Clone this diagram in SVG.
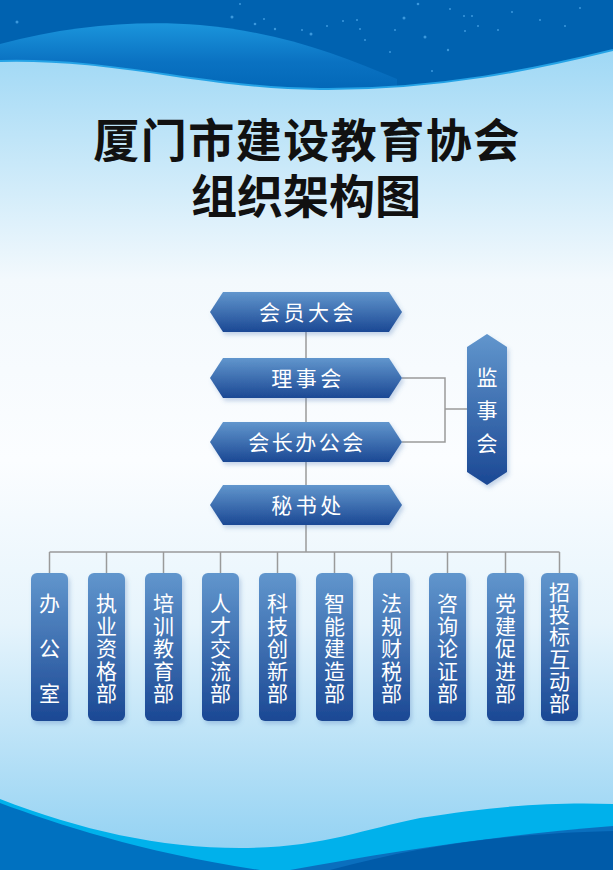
<svg xmlns="http://www.w3.org/2000/svg" width="613" height="870" viewBox="0 0 613 870">
<defs>
<linearGradient id="bg" x1="0" y1="0" x2="0" y2="1">
<stop offset="0" stop-color="#9fd8f5"/>
<stop offset="0.28" stop-color="#f3f9fd"/>
<stop offset="0.5" stop-color="#fbfdff"/>
<stop offset="0.7" stop-color="#e6f4fc"/>
<stop offset="1" stop-color="#8ccff2"/>
</linearGradient>
<linearGradient id="band" x1="0" y1="0" x2="0" y2="1">
<stop offset="0" stop-color="#1b95dc"/>
<stop offset="0.5" stop-color="#0a72c2"/>
<stop offset="1" stop-color="#0064b4"/>
</linearGradient>
<linearGradient id="node" x1="0" y1="0" x2="0" y2="1">
<stop offset="0" stop-color="#6196cd"/>
<stop offset="1" stop-color="#1b4894"/>
</linearGradient>
<filter id="sh" x="-20%" y="-20%" width="150%" height="150%">
<feDropShadow dx="2" dy="3" stdDeviation="2" flood-color="#4a74b4" flood-opacity="0.3"/>
</filter>
<style>
.n{fill:url(#node);filter:url(#sh)}
.t{font-family:"Noto Sans CJK SC","Noto Sans",sans-serif;fill:#fff;font-size:21px;text-anchor:middle}
.h{letter-spacing:3.5px}
.c{fill:none;stroke:#9a9a9a;stroke-width:1.5}
.title{font-family:"Noto Sans CJK SC","Noto Sans",sans-serif;font-weight:bold;font-size:46px;fill:#111;text-anchor:middle}
.star{fill:#3b98dc}
</style>
</defs>
<g id="background">
<rect x="0" y="0" width="613" height="870" fill="url(#bg)"/>
<rect x="0" y="0" width="613" height="100" fill="#0062b0"/>
<path d="M0,44 C70,25 140,20 200,25 C280,32 340,55 397,79 L397,100 L0,100 Z" fill="url(#band)"/>
<path d="M0,61 C120,58 200,88 320,89 C440,90 540,68 613,50 V870 H0 Z" fill="url(#bg)"/>
<path d="M0,61 C120,58 200,88 320,89 C440,90 540,68 613,50" fill="none" stroke="#25a3e6" stroke-width="2"/>
<g class="stars">
<circle class="star" cx="17" cy="22" r="1.5"/><circle class="star" cx="240" cy="4" r="1"/><circle class="star" cx="232" cy="17" r="1.5"/>
<circle class="star" cx="255" cy="24" r="1.3"/><circle class="star" cx="264" cy="19" r="1"/><circle class="star" cx="275" cy="29" r="1.2"/>
<circle class="star" cx="302" cy="30" r="1"/><circle class="star" cx="311" cy="34" r="1.5"/><circle class="star" cx="343" cy="21" r="1"/>
<circle class="star" cx="327" cy="26" r="1"/><circle class="star" cx="357" cy="20" r="1"/><circle class="star" cx="360" cy="29" r="1"/>
<circle class="star" cx="395" cy="30" r="1"/><circle class="star" cx="404" cy="18" r="1.5"/><circle class="star" cx="418" cy="4" r="1.3"/>
<circle class="star" cx="450" cy="9" r="1"/><circle class="star" cx="464" cy="16" r="1"/><circle class="star" cx="472" cy="16" r="1"/>
<circle class="star" cx="478" cy="26" r="1"/><circle class="star" cx="498" cy="30" r="1"/><circle class="star" cx="425" cy="37" r="1.5"/>
<circle class="star" cx="448" cy="50" r="1.2"/><circle class="star" cx="365" cy="40" r="1"/><circle class="star" cx="390" cy="52" r="1"/>
<circle class="star" cx="465" cy="31" r="1"/><circle class="star" cx="512" cy="12" r="1"/><circle class="star" cx="540" cy="20" r="1"/>
<circle class="star" cx="565" cy="26" r="1"/><circle class="star" cx="580" cy="8" r="1"/><circle class="star" cx="432" cy="71" r="1"/>
</g>
<path d="M0,799 C80,830 160,848 240,848 C320,848 360,830 420,818 C500,805 560,802 613,804 V870 H0 Z" fill="#00b1eb"/>
<path d="M0,803 C60,825 140,852 260,870 H0 Z" fill="#0071c0"/>
<path d="M290,870 C400,850 500,835 613,826 V870 Z" fill="#0a6fbe"/>
<path d="M330,870 C420,846 500,834 613,831 V870 Z" fill="#005ba9"/>
</g>
<g id="title">
<text class="title" x="307" y="157" letter-spacing="1.5">厦门市建设教育协会</text>
<text class="title" x="306" y="213">组织架构图</text>
</g>
<g id="connectors">
<path class="c" d="M306,332 V358 M306,398 V422 M306,462 V485 M306,525 V552"/>
<path class="c" d="M402,378 H445 V442 H402 M445,409 H467"/>
<path class="c" d="M49.5,552 H559.5"/>
<path class="c" d="M49.5,552 V573 M106.5,552 V573 M163.5,552 V573 M220.5,552 V573 M277.5,552 V573 M334.5,552 V573 M391.5,552 V573 M447.5,552 V573 M505.5,552 V573 M559.5,552 V573"/>
</g>
<g id="n-huiyuan">
<polygon class="n" points="210,312 223,292 389,292 402,312 389,332 223,332"/>
<text class="t h" x="308" y="320">会员大会</text>
</g>
<g id="n-lishi">
<polygon class="n" points="210,378 223,358 389,358 402,378 389,398 223,398"/>
<text class="t h" x="308" y="386">理事会</text>
</g>
<g id="n-huizhang">
<polygon class="n" points="210,442 223,422 389,422 402,442 389,462 223,462"/>
<text class="t" x="307" y="450" letter-spacing="2.5">会长办公会</text>
</g>
<g id="n-mishu">
<polygon class="n" points="210,505 223,485 389,485 402,505 389,525 223,525"/>
<text class="t h" x="308" y="513">秘书处</text>
</g>
<g id="n-jianshi">
<polygon class="n" points="467,347 487,334 507,347 507,472 487,485 467,472"/>
<text class="t" font-size="22"><tspan x="487" y="385">监</tspan><tspan x="487" y="418">事</tspan><tspan x="487" y="451">会</tspan></text>
</g>
<g id="d1"><rect class="n" x="31" y="573" width="37" height="148" rx="6"/>
<text class="t"><tspan x="49.5" y="611">办</tspan><tspan x="49.5" y="656">公</tspan><tspan x="49.5" y="701">室</tspan></text></g>
<g id="d2"><rect class="n" x="88" y="573" width="37" height="148" rx="6"/>
<text class="t"><tspan x="106.5" y="611">执</tspan><tspan x="106.5" y="633.5">业</tspan><tspan x="106.5" y="656">资</tspan><tspan x="106.5" y="678.5">格</tspan><tspan x="106.5" y="701">部</tspan></text></g>
<g id="d3"><rect class="n" x="145" y="573" width="37" height="148" rx="6"/>
<text class="t"><tspan x="163.5" y="611">培</tspan><tspan x="163.5" y="633.5">训</tspan><tspan x="163.5" y="656">教</tspan><tspan x="163.5" y="678.5">育</tspan><tspan x="163.5" y="701">部</tspan></text></g>
<g id="d4"><rect class="n" x="202" y="573" width="37" height="148" rx="6"/>
<text class="t"><tspan x="220.5" y="611">人</tspan><tspan x="220.5" y="633.5">才</tspan><tspan x="220.5" y="656">交</tspan><tspan x="220.5" y="678.5">流</tspan><tspan x="220.5" y="701">部</tspan></text></g>
<g id="d5"><rect class="n" x="259" y="573" width="37" height="148" rx="6"/>
<text class="t"><tspan x="277.5" y="611">科</tspan><tspan x="277.5" y="633.5">技</tspan><tspan x="277.5" y="656">创</tspan><tspan x="277.5" y="678.5">新</tspan><tspan x="277.5" y="701">部</tspan></text></g>
<g id="d6"><rect class="n" x="316" y="573" width="37" height="148" rx="6"/>
<text class="t"><tspan x="334.5" y="611">智</tspan><tspan x="334.5" y="633.5">能</tspan><tspan x="334.5" y="656">建</tspan><tspan x="334.5" y="678.5">造</tspan><tspan x="334.5" y="701">部</tspan></text></g>
<g id="d7"><rect class="n" x="373" y="573" width="37" height="148" rx="6"/>
<text class="t"><tspan x="391.5" y="611">法</tspan><tspan x="391.5" y="633.5">规</tspan><tspan x="391.5" y="656">财</tspan><tspan x="391.5" y="678.5">税</tspan><tspan x="391.5" y="701">部</tspan></text></g>
<g id="d8"><rect class="n" x="429" y="573" width="37" height="148" rx="6"/>
<text class="t"><tspan x="447.5" y="611">咨</tspan><tspan x="447.5" y="633.5">询</tspan><tspan x="447.5" y="656">论</tspan><tspan x="447.5" y="678.5">证</tspan><tspan x="447.5" y="701">部</tspan></text></g>
<g id="d9"><rect class="n" x="487" y="573" width="37" height="148" rx="6"/>
<text class="t"><tspan x="505.5" y="611">党</tspan><tspan x="505.5" y="633.5">建</tspan><tspan x="505.5" y="656">促</tspan><tspan x="505.5" y="678.5">进</tspan><tspan x="505.5" y="701">部</tspan></text></g>
<g id="d10"><rect class="n" x="541" y="573" width="37" height="148" rx="6"/>
<text class="t"><tspan x="559.5" y="600">招</tspan><tspan x="559.5" y="622.2">投</tspan><tspan x="559.5" y="644.4">标</tspan><tspan x="559.5" y="666.6">互</tspan><tspan x="559.5" y="688.8">动</tspan><tspan x="559.5" y="711">部</tspan></text></g>
</svg>
